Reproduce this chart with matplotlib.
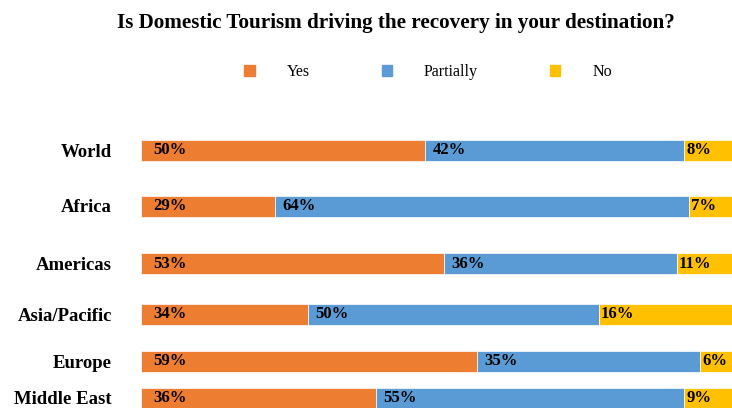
import matplotlib.pyplot as plt
from matplotlib.patches import Patch

regions = ["World", "Africa", "Americas", "Asia/Pacific", "Europe", "Middle East"]
series = ["Yes", "Partially", "No"]
colors = ["#ED7D31", "#5B9BD5", "#FFC000"]

# segment lengths as drawn in the picture (share of bar)
yes_bar = [48.1, 22.7, 51.3, 28.3, 56.9, 39.8]
partially_bar = [43.8, 70.0, 39.4, 49.2, 37.7, 52.1]
no_bar = [8.1, 7.3, 9.3, 22.5, 5.4, 8.1]

# labels printed on the bars
yes_lbl = [50, 29, 53, 34, 59, 36]
partially_lbl = [42, 64, 36, 50, 35, 55]
no_lbl = [8, 7, 11, 16, 6, 9]

# layout: bar centres in pixel rows of the original picture
ypos = [150.5, 206, 263.5, 314.5, 361, 398]

W, H = 732, 408
fig = plt.figure(figsize=(W / 100, H / 100), dpi=100)
ax = fig.add_axes([141 / W, 0, 1 - 141 / W, (408 - 130) / H])
ax.set_xlim(0, 100)
ax.set_ylim(408, 130)

serif = "Liberation Serif"
bars = [yes_bar, partially_bar, no_bar]
lbls = [yes_lbl, partially_lbl, no_lbl]
offs = [12, 7, 2]
left = [0] * len(regions)
for s in range(3):
    ax.barh(ypos, bars[s], left=left, height=21, color=colors[s],
            edgecolor="white", linewidth=0.5)
    for i in range(len(regions)):
        ax.annotate(f"{lbls[s][i]}%", (left[i], ypos[i]), xytext=(offs[s], 0),
                    textcoords="offset pixels", ha="left", va="center",
                    fontsize=12, fontweight="bold", family=serif)
    left = [a + b for a, b in zip(left, bars[s])]

ax.set_yticks(ypos)
ax.set_yticklabels(regions, fontsize=13.5, fontweight="bold", family=serif)
ax.tick_params(axis="y", length=0, pad=21)
ax.set_xticks([])
for sp in ax.spines.values():
    sp.set_visible(False)

fig.text(396 / W, 1 - 23 / H, "Is Domestic Tourism driving the recovery in your destination?",
         ha="center", va="center", fontsize=15.2, fontweight="bold", family=serif)

handles = [Patch(color=c) for c in colors]
fig.legend(handles, series, loc="center", bbox_to_anchor=(428 / W, 1 - 72 / H),
           ncol=3, frameon=False, prop={"family": serif, "size": 11.5},
           handlelength=0.65, handleheight=0.65, columnspacing=4.5, handletextpad=2.0)

fig.savefig("out.png", dpi=100)
